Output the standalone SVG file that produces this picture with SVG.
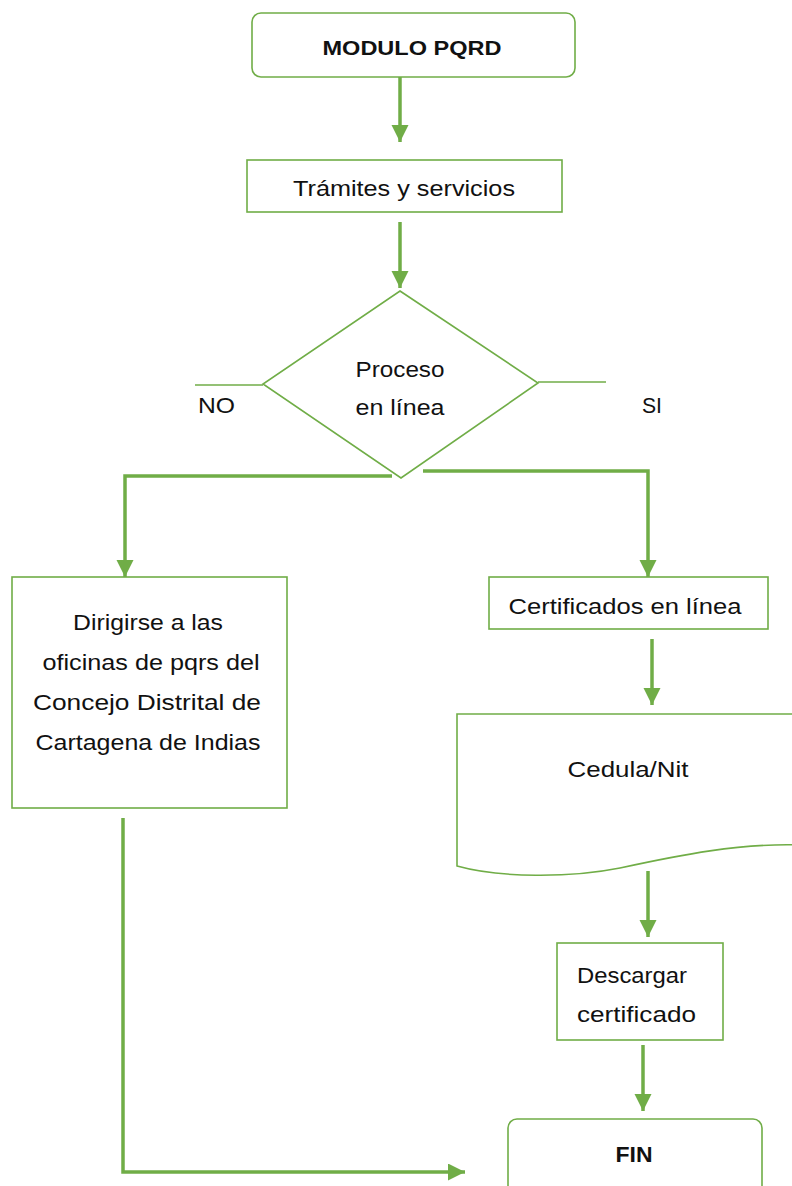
<svg xmlns="http://www.w3.org/2000/svg" width="792" height="1186" viewBox="0 0 792 1186">
<style>
.box{fill:#fff;stroke:#70AD47;stroke-width:1.6}
.con{fill:none;stroke:#70AD47;stroke-width:3.5}
.thin{fill:none;stroke:#70AD47;stroke-width:1.6}
text{font-family:"Liberation Sans",Arial,sans-serif;font-size:22px;fill:#111}
.c{text-anchor:middle}
.b{font-weight:bold}
</style>
<defs>
<marker id="ah" markerUnits="userSpaceOnUse" markerWidth="18" markerHeight="18" refX="17" refY="8.5" orient="auto">
<path d="M0,0 L17,8.5 L0,17 Z" fill="#70AD47"/>
</marker>
</defs>
<rect width="792" height="1186" fill="#fff"/>
<g id="connectors">
<path class="con" d="M400,77 V142" marker-end="url(#ah)"/>
<path class="con" d="M400,222 V288" marker-end="url(#ah)"/>
<path class="con" d="M392,476 H125 V577" marker-end="url(#ah)"/>
<path class="con" d="M423,471 H648 V577" marker-end="url(#ah)"/>
<path class="con" d="M652,639 V705" marker-end="url(#ah)"/>
<path class="con" d="M648,871 V937" marker-end="url(#ah)"/>
<path class="con" d="M643,1045 V1111" marker-end="url(#ah)"/>
<path class="con" d="M123,818 V1172 H465" marker-end="url(#ah)"/>
<path class="thin" d="M195,385 H263"/>
<path class="thin" d="M538,382 H606"/>
</g>
<g id="n-modulo">
<rect class="box" x="252" y="13" width="323" height="64" rx="9"/>
<text class="c b" x="412" y="55" style="font-size:21px" textLength="179" lengthAdjust="spacingAndGlyphs">MODULO PQRD</text>
</g>
<g id="n-tramites">
<rect class="box" x="247" y="160" width="315" height="52"/>
<text class="c" x="404" y="196" textLength="222" lengthAdjust="spacingAndGlyphs">Trámites y servicios</text>
</g>
<g id="n-decision">
<polygon class="box" points="400,291 538,383 401,478 263,384"/>
<text class="c" x="400" y="377" textLength="89" lengthAdjust="spacingAndGlyphs">Proceso</text>
<text class="c" x="400" y="415" textLength="89" lengthAdjust="spacingAndGlyphs">en línea</text>
</g>
<g id="l-no"><text x="198" y="413" textLength="37" lengthAdjust="spacingAndGlyphs">NO</text></g>
<g id="l-si"><text x="642" y="413" textLength="20" lengthAdjust="spacingAndGlyphs">SI</text></g>
<g id="n-dirigirse">
<rect class="box" x="12" y="577" width="275" height="231"/>
<text class="c" x="148" y="630" textLength="150" lengthAdjust="spacingAndGlyphs">Dirigirse a las</text>
<text class="c" x="151" y="670" textLength="217" lengthAdjust="spacingAndGlyphs">oficinas de pqrs del</text>
<text class="c" x="147" y="710" textLength="228" lengthAdjust="spacingAndGlyphs">Concejo Distrital de</text>
<text class="c" x="148" y="750" textLength="225" lengthAdjust="spacingAndGlyphs">Cartagena de Indias</text>
</g>
<g id="n-certificados">
<rect class="box" x="489" y="577" width="279" height="52"/>
<text class="c" x="625" y="614" textLength="233" lengthAdjust="spacingAndGlyphs">Certificados en línea</text>
</g>
<g id="n-cedula">
<path class="box" d="M457,714 H800 V845 C740,843 680,855 620,868 C570,878 500,878 457,866 Z"/>
<text class="c" x="628" y="777" textLength="121" lengthAdjust="spacingAndGlyphs">Cedula/Nit</text>
</g>
<g id="n-descargar">
<rect class="box" x="557" y="943" width="166" height="97"/>
<text x="577" y="983" textLength="110" lengthAdjust="spacingAndGlyphs">Descargar</text>
<text x="577" y="1022" textLength="119" lengthAdjust="spacingAndGlyphs">certificado</text>
</g>
<g id="n-fin">
<rect class="box" x="508" y="1119" width="254" height="90" rx="9"/>
<text class="c b" x="634" y="1162" textLength="37" lengthAdjust="spacingAndGlyphs">FIN</text>
</g>
</svg>
